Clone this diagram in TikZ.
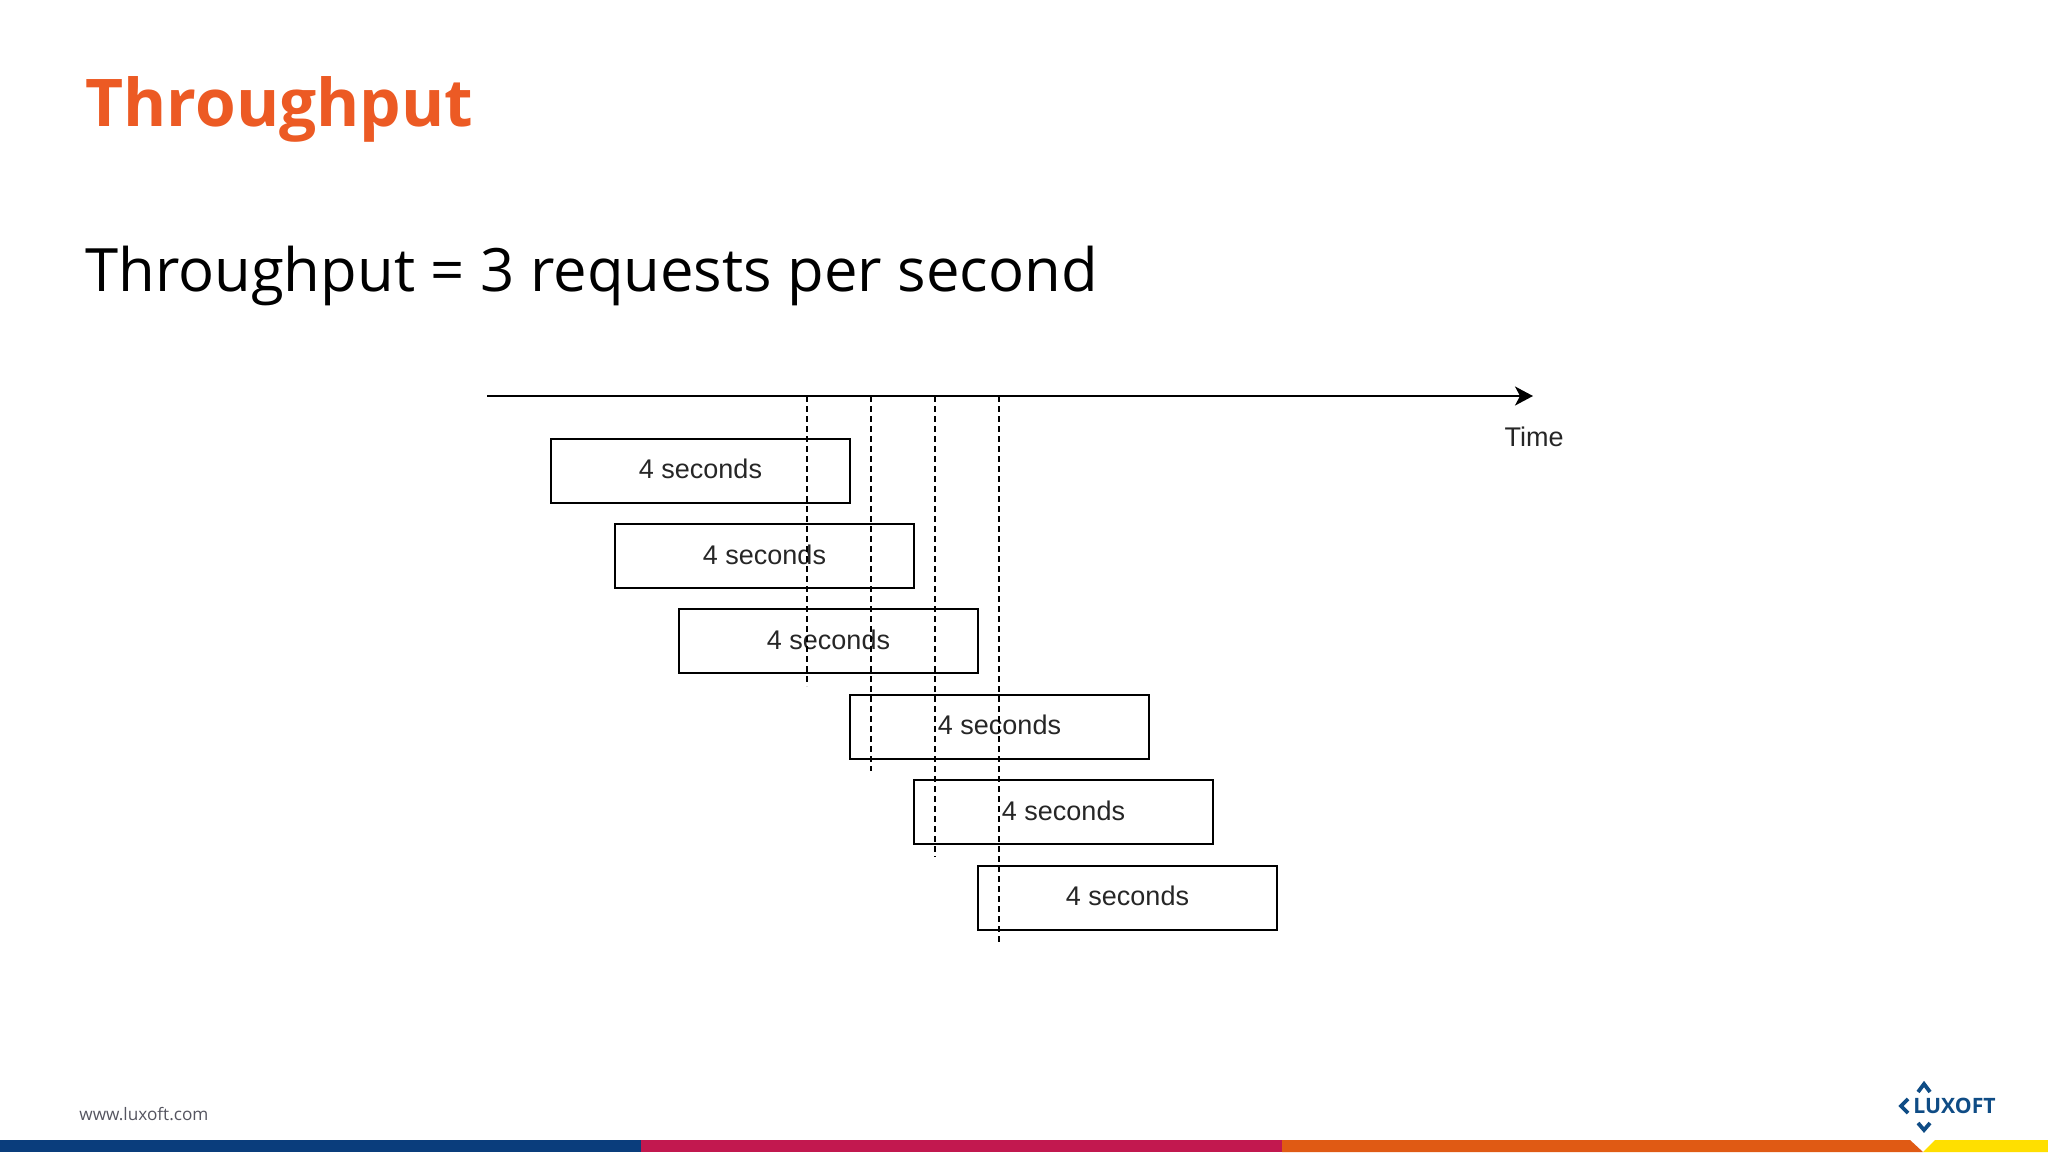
\documentclass[tikz,border=0pt]{standalone}
\usepackage{fontspec}
\setmainfont{Open Sans}
\newfontfamily\boxfont{Liberation Sans}
\usetikzlibrary{arrows.meta}
\definecolor{titleorange}{HTML}{EC5A24}
\definecolor{barblue}{HTML}{0A3D7C}
\definecolor{barred}{HTML}{C2184F}
\definecolor{barorange}{HTML}{E05A14}
\definecolor{baryellow}{HTML}{FFDF00}
\definecolor{logoblue}{HTML}{0F4C85}
\definecolor{footgrey}{HTML}{555560}
\tikzset{
  reqbox/.style={draw,line width=1pt,minimum width=149.4pt,minimum height=32pt,inner sep=0,text depth=1.5pt,font=\boxfont\fontsize{13.5}{16}\selectfont,text=black!85},
  tick/.style={line width=0.8pt,dash pattern=on 3pt off 2pt},
  chevron/.style={draw=logoblue,line width=1.9pt,miter limit=10}
}
\begin{document}
\begin{tikzpicture}[x=0.5pt,y=-0.5pt]
    \def\stepx{64}
    \def\stepy{85.4}
    \useasboundingbox (0,0) rectangle (2048,1152);
    % bottom bar
    \fill[barblue] (0,1140) rectangle (641,1152);
    \fill[barred] (641,1140) rectangle (1282,1152);
    \fill[barorange] (1282,1140) -- (1910,1140) -- (1923,1152) -- (1282,1152) -- cycle;
    \fill[baryellow] (1935,1140) -- (2048,1140) -- (2048,1152) -- (1923,1152) -- cycle;
    % texts
    \node[anchor=base west,inner sep=0,text=titleorange,font=\bfseries\fontsize{32.9}{40}\selectfont] (title) at (85,126) {Throughput};
    \node[anchor=base west,inner sep=0,font=\fontsize{29.9}{36}\selectfont] (sub) at (85,291) {Throughput = 3 requests per second};
    \node[anchor=base west,inner sep=0,text=footgrey,font=\fontsize{8.6}{10}\selectfont] (www) at (79,1120) {www.luxoft.com};
    % boxes
    \node[reqbox] (r1) at (700.5,470.5) {4 seconds};
    \path (r1) ++(\stepx,\stepy) node[reqbox] (r2) {4 seconds};
    \path (r2) ++(\stepx,\stepy) node[reqbox] (r3) {4 seconds};
    \path (r3) ++(2*\stepx+43,\stepy) node[reqbox] (r4) {4 seconds};
    \path (r4) ++(\stepx,\stepy) node[reqbox] (r5) {4 seconds};
    \path (r5) ++(\stepx,\stepy) node[reqbox] (r6) {4 seconds};
    % time axis
    \coordinate (axisL) at (487,396);
    \coordinate (axisR) at (1533,396);
    \draw[line width=1pt,-{Stealth[length=9pt,width=9.5pt,inset=2.5pt]}] (axisL) -- (axisR);
    \node[inner sep=0,font=\boxfont\fontsize{13.5}{16}\selectfont,text=black!85] (time) at (1534,437) {Time};
    % dashed marks
    \coordinate (t1) at (807,396);
    \coordinate (b1) at (807,686);
    \coordinate (t2) at (871,396);
    \coordinate (b2) at (871,771);
    \coordinate (t3) at (935,396);
    \coordinate (b3) at (935,857);
    \coordinate (t4) at (999,396);
    \coordinate (b4) at (999,942);
    \draw[tick] (t1) -- (b1) (t2) -- (b2) (t3) -- (b3) (t4) -- (b4);
    % logo
    \node[anchor=base west,inner sep=0,text=logoblue,font=\bfseries\fontsize{10.6}{12}\selectfont] (logo) at (1913,1113) {LUXOFT};
    \draw[chevron] (1918,1092) -- (1924,1084) -- (1930,1092);
    \draw[chevron] (1918,1123) -- (1924,1130) -- (1930,1123);
    \draw[chevron] (1908,1099) -- (1901,1106) -- (1908,1113);
\end{tikzpicture}
\end{document}
